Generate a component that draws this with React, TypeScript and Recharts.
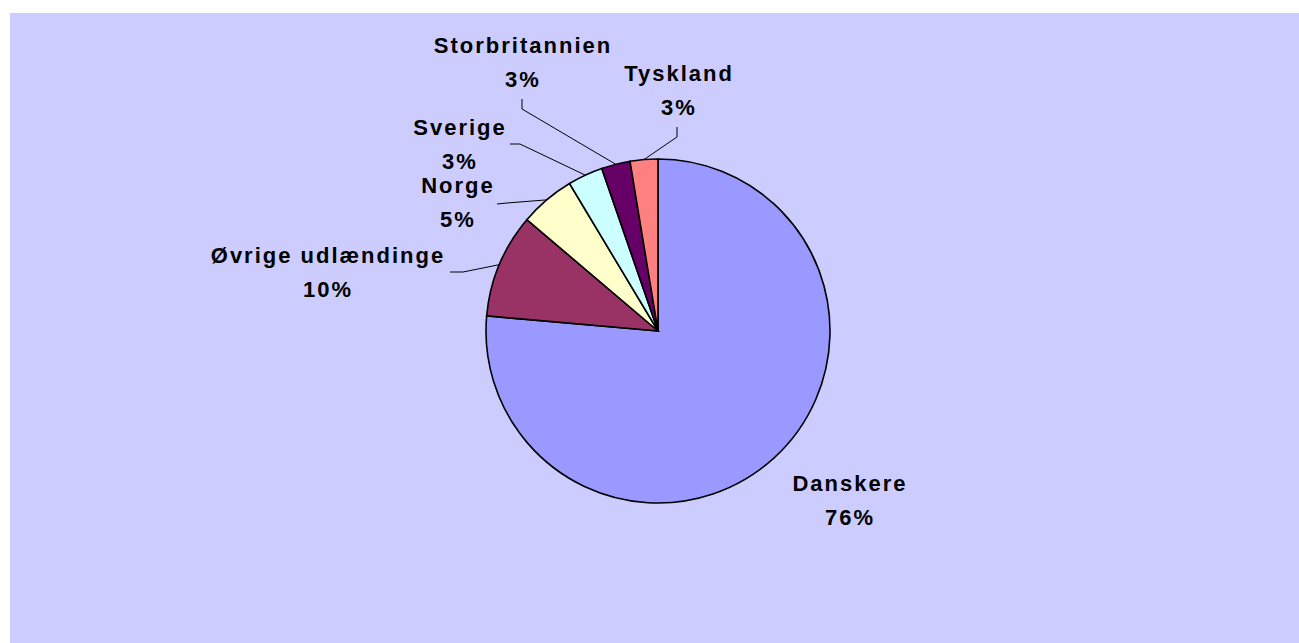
import { PieChart, Pie, Cell } from 'recharts';

// nationality shares of overnight stays
const names = ['Danskere', 'Øvrige udlændinge', 'Norge', 'Sverige', 'Storbritannien', 'Tyskland'];
const shares = [76.4, 9.8, 5.2, 3.3, 2.7, 2.6];
const colors = ['#9999FF', '#993366', '#FFFFCC', '#CCFFFF', '#660066', '#FF8080'];

// label anchors (chart coords) and elbow of the leader line
const labelLayout: { x: number; y: number; line: [number, number][] | null }[] = [
  { x: 840, y: 470, line: null },
  { x: 318, y: 242, line: [[440, 259], [453, 259]] },
  { x: 448, y: 172, line: [[487, 191], [497, 190]] },
  { x: 450, y: 114, line: [[500, 131], [510, 131]] },
  { x: 513, y: 32, line: [[512, 86], [512, 96]] },
  { x: 669, y: 60, line: [[667, 114], [667, 124]] },
];

const data = names.map((name, i) => ({ name, value: shares[i] }));

const RAD = Math.PI / 180;

const renderLabel = (props: any) => {
  const { cx, cy, midAngle, outerRadius, percent, index, name } = props;
  const pos = labelLayout[index];
  const ex = cx + outerRadius * Math.cos(-midAngle * RAD);
  const ey = cy + outerRadius * Math.sin(-midAngle * RAD);
  const pts = pos.line ? [...pos.line, [ex, ey]] : null;
  const textStyle = {
    fontFamily: '"Liberation Sans", Arial, sans-serif',
    fontWeight: 700,
    fontSize: 22,
    letterSpacing: 2,
  };
  return (
    <g key={`lbl-${index}`}>
      {pts && (
        <polyline
          points={pts.map((p) => p.join(',')).join(' ')}
          fill="none"
          stroke="#000"
          strokeWidth={1}
        />
      )}
      <text x={pos.x} y={pos.y} textAnchor="middle" dominantBaseline="central" fill="#000" style={textStyle}>
        {name}
      </text>
      <text x={pos.x} y={pos.y + 34} textAnchor="middle" dominantBaseline="central" fill="#000" style={textStyle}>
        {`${Math.round(percent * 100)}%`}
      </text>
    </g>
  );
};

export default function App() {
  return (
    <>
      <style>{'html, body { overflow: hidden; }'}</style>
      <div style={{ position: 'fixed', left: 10, top: 13, right: 0, height: 630, background: '#CCCCFF' }}>
        <PieChart width={1289} height={630} margin={{ top: 0, right: 0, bottom: 0, left: 0 }}>
          <Pie
            data={data}
            dataKey="value"
            nameKey="name"
            cx={648}
            cy={318}
            outerRadius={172}
            startAngle={90}
            endAngle={-270}
            stroke="#000"
            strokeWidth={1.6}
            label={renderLabel}
            labelLine={false}
            isAnimationActive={false}
          >
            {data.map((d, i) => (
              <Cell key={d.name} fill={colors[i]} />
            ))}
          </Pie>
        </PieChart>
      </div>
    </>
  );
}
